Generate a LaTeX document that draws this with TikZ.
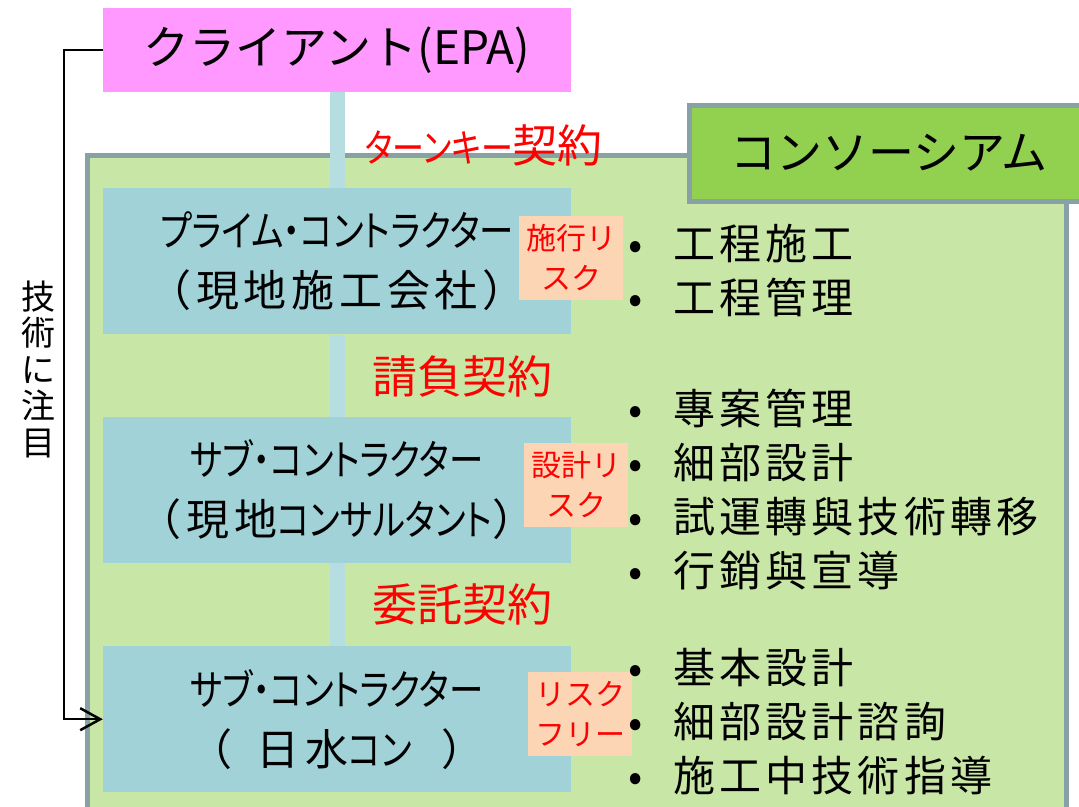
\documentclass[tikz,border=0pt]{standalone}
\usepackage{fontspec}
\setmainfont{Noto Sans CJK JP}
\newfontfamily\kana[RawFeature=+palt,FakeStretch=0.82]{Noto Sans CJK JP}
\newfontfamily\ancho[LetterSpace=11]{Noto Sans CJK JP}
\newfontfamily\lista[LetterSpace=10]{Noto Sans CJK JP}
\usetikzlibrary{positioning,arrows.meta}
\definecolor{rosa}{HTML}{FF99FF}
\definecolor{celeste}{HTML}{A0D2D8}
\definecolor{tallo}{HTML}{B6DDE0}
\definecolor{verde}{HTML}{92D050}
\definecolor{verdeclaro}{HTML}{C8E6A5}
\definecolor{gris}{HTML}{88A1A4}
\definecolor{melocoton}{HTML}{FCD5B5}
\definecolor{rojo}{HTML}{FF0000}
\newcommand{\punto}{\makebox[45pt][l]{•}}

\begin{document}
\begin{tikzpicture}[x=1pt,y=-1pt,
      caja/.style={fill=celeste,minimum width=468pt,minimum height=146pt,inner sep=0pt,
                   align=center,font=\fontsize{43}{60}\selectfont},
      riesgo/.style={fill=melocoton,minimum width=104pt,minimum height=84pt,inner sep=0pt,
                     align=center,text=rojo,font=\fontsize{30}{40}\selectfont},
      contrato/.style={text=rojo,font=\fontsize{45}{48}\selectfont},
      tareas/.style={anchor=west,align=left,inner sep=0pt,font=\lista\fontsize{42}{54}\selectfont},
      enlace/.style={line width=15pt,tallo},
      flecha/.style={-{Straight Barb[length=20pt,width=22pt]},line width=2.5pt,black},
      node distance=96pt]
    \useasboundingbox (0,0) rectangle (1079,806);
    \clip (0,0) rectangle (1079,806);
    % consorcio
    \draw[gris,fill=verdeclaro,line width=5pt] (87,155) rectangle (1066,830);
    \node[draw=gris,fill=verde,line width=5pt,minimum width=400pt,minimum height=96pt,
          font=\fontsize{46}{50}\selectfont] (consorcio) at (889,153) {コンソーシアム};
    % cajas
    \node[fill=rosa,minimum width=468pt,minimum height=84pt,font=\fontsize{46}{50}\selectfont]
          (cliente) at (337,50) {クライアント(EPA)};
    \node[caja,below=of cliente] (prima) {{\kana\fontsize{42}{60}\selectfont プライム・コントラクター}\\{\ancho （現地施工会社）}};
    \node[caja,below=82pt of prima] (sub1) {{\kana\fontsize{42}{60}\selectfont サブ・コントラクター}\\{\ancho （現地}{\kana\fontsize{42}{60}\selectfont コンサルタント}{\ancho ）}};
    \node[caja,below=83pt of sub1] (sub2) {{\kana\fontsize{42}{60}\selectfont サブ・コントラクター}\\{\ancho （\hspace{24pt}日\hspace{6pt}水}{\kana\fontsize{42}{60}\selectfont コン}{\ancho \hspace{30pt}）}};
    \draw[enlace] (cliente.south) -- (prima.north);
    \draw[enlace] (prima.south) -- (sub1.north);
    \draw[enlace] (sub1.south) -- (sub2.north);
    % contratos
    \node[contrato] (c1) at (484,145) {{\kana\fontsize{39}{48}\selectfont ターンキー}契約};
    \node[contrato] (c2) at (462,376) {請負契約};
    \node[contrato] (c3) at (462,604) {委託契約};
    % riesgos
    \node[riesgo] (r1) at (571,258) {施行リ\\スク};
    \node[riesgo] (r2) at (576,485) {設計リ\\スク};
    \node[riesgo] (r3) at (580,714) {リスク\\フリー};
    % tareas
    \node[tareas] (t1) at (628,271) {\punto 工程施工\\\punto 工程管理};
    \node[tareas] (t2) at (628,489) {\punto 專案管理\\\punto 細部設計\\\punto 試運轉與技術轉移\\\punto 行銷與宣導};
    \node[tareas] (t3) at (628,722) {\punto 基本設計\\\punto 細部設計諮詢\\\punto 施工中技術指導};
    % tecnica
    \draw[flecha] (cliente.west) -- ++(-39,0) |- (sub2.west);
    \node[align=center,font=\fontsize{34}{36.5}\selectfont] (foco) at (38,369) {技\\術\\に\\注\\目};
\end{tikzpicture}
\end{document}
